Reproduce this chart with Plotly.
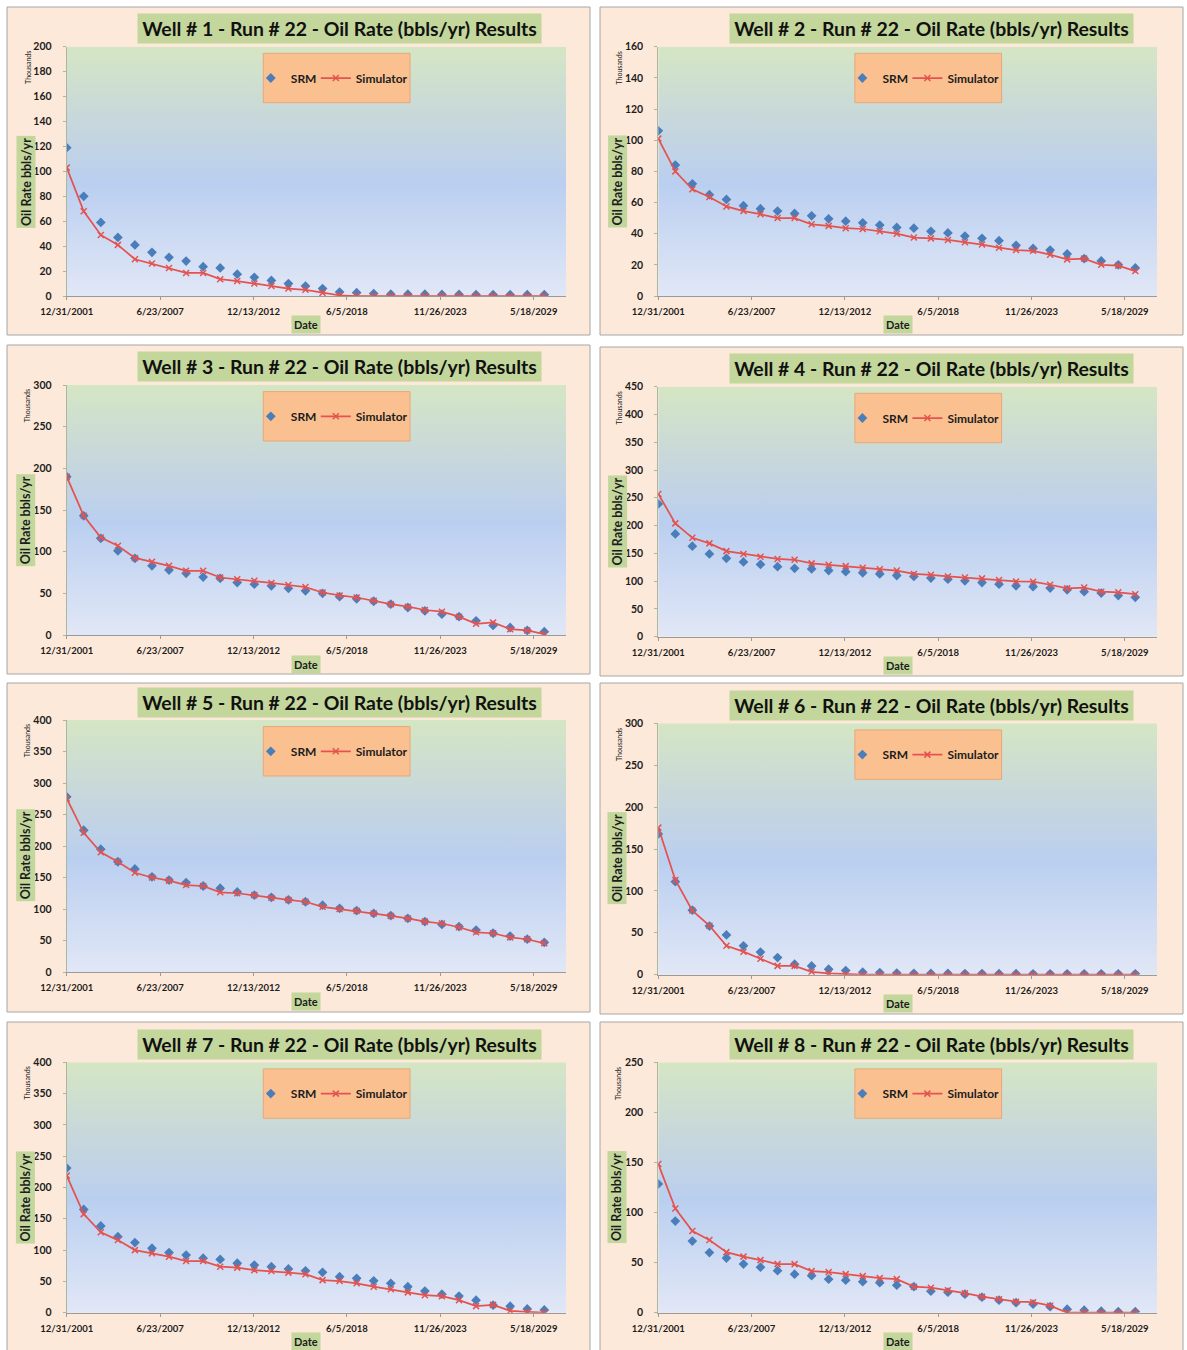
import base64
import plotly.graph_objects as go

# ---- data (oil rate, thousands of bbls/yr) ----
dates = [f"{y}-12-31" for y in range(2001, 2030)]

wells = ["Well # 1", "Well # 2", "Well # 3", "Well # 4",
         "Well # 5", "Well # 6", "Well # 7", "Well # 8"]
run_label = "Run # 22"

w1_srm = [119, 80, 59, 47, 41, 35, 31, 28, 23.5, 22.5, 17.5, 15, 12.5, 10, 8, 6, 3.2, 2.7, 2, 1.5,
          1.5, 1.4, 1.3, 1.2, 1.1, 1, 1, 1, 1]
w1_sim = [103, 68, 49, 41, 29.5, 26, 22.5, 18.5, 18.5, 13.5, 12, 10, 8, 6, 5, 2.5, 0.5, 0, 0, 0,
          0, 0, 0, 0, 0, 0, 0, 0, 0]

w2_srm = [106, 84, 72, 65, 62, 58, 56, 54.5, 53, 51.5, 49.5, 48, 47, 45.5, 44, 43.5, 41.5, 40.5, 38.5, 37,
          35.5, 32.5, 30.5, 29.5, 27, 24, 22.5, 20, 18]
w2_sim = [101, 80, 68.5, 63.5, 57.5, 54.5, 52.5, 50, 50, 46, 45, 43.5, 43, 41.5, 40, 37.5, 37, 36, 34.5, 33,
          31, 29.5, 29, 26.5, 23.5, 24, 20, 19.5, 16]

w3_srm = [190, 143, 116, 101, 92, 83, 78, 74, 69.5, 68, 63, 61, 59, 56, 53, 50, 46, 43.5, 40.5, 37,
          33, 29, 25, 22, 17, 11.5, 9, 5.5, 4]
w3_sim = [190, 143, 117, 107, 92.5, 88, 83, 77, 77, 69, 67, 65, 62.5, 60, 57.5, 51, 47.5, 45, 41, 37,
          34, 30, 28, 22, 13.5, 15, 7, 5.5, 1]

w4_srm = [239, 185, 163, 149, 141, 134.5, 130, 126, 123, 122, 119, 117, 115, 113, 110, 108.5, 105.5, 103.5, 100.5, 97.5,
          94.5, 91.5, 90, 87.5, 84.5, 81, 78.5, 74, 71]
w4_sim = [257, 204, 178, 168, 154, 149, 144, 140, 138.5, 132, 129.5, 127, 124, 121.5, 119, 113, 111.5, 108.5, 106.5, 105,
          102, 99.5, 99, 93.5, 87, 88.5, 81, 80, 76.5]

w5_srm = [278, 225, 195, 175, 163.5, 151, 146, 142, 136.5, 133, 127, 122, 118.5, 114.5, 111.5, 106, 101, 97.5, 93, 89.5,
          85, 80, 75.5, 72, 66.5, 61.5, 57, 52, 47]
w5_sim = [275.5, 221, 190, 175, 157.5, 150, 145, 138, 136.5, 126.5, 125, 122, 118, 114.5, 111.5, 103.5, 100, 97, 93, 89,
          85, 80, 77, 71, 63, 61.5, 55, 52, 45.5]

w6_srm = [168, 111, 77, 58, 47.5, 34.5, 27, 20.5, 12.5, 10.5, 6.5, 5, 3, 2.5, 2, 1.6, 1.5, 1.5, 1.4, 1.3,
          1.2, 1.2, 1.1, 1.1, 1, 1, 1, 1, 1]
w6_sim = [175.5, 113, 76.5, 58.5, 34.5, 27.5, 19, 10.5, 10.5, 3.5, 1.5, 0.5, 0, 0, 0, 0, 0, 0, 0, 0,
          0, 0, 0, 0, 0, 0, 0, 0, 0]

w7_srm = [231, 165, 138.5, 121.5, 112, 103, 96, 92, 87, 85, 79, 76, 73.5, 70, 67, 64.5, 57.5, 55, 51, 47,
          41.5, 34.5, 29.5, 26.5, 20, 12, 10.5, 6, 4.5]
w7_sim = [219, 157.5, 128.5, 116, 100, 95, 89.5, 82.5, 82.5, 73.5, 72, 68, 66.5, 64, 61.5, 52, 50.5, 47, 41.5, 37.5,
          32.5, 28, 26.5, 20, 10.5, 12.5, 3, 1.5, 0]

w8_srm = [128.5, 91.5, 71.5, 60, 54.5, 48.5, 45.5, 42, 38.5, 37, 33.5, 32.5, 31, 30, 27.5, 26, 21.5, 20.5, 18.5, 15.5,
          12.5, 10, 8.5, 6, 3.5, 2.5, 1.5, 1, 1]
w8_sim = [148.5, 104, 81.5, 72.5, 60.5, 56, 52.5, 48.5, 48.5, 41.5, 40.5, 38.5, 36.5, 34.5, 33.5, 26, 25, 22.5, 19.5, 16,
          13.5, 11, 10.5, 7, 0, 0.3, 0, 0, 0]

srm_series = [w1_srm, w2_srm, w3_srm, w4_srm, w5_srm, w6_srm, w7_srm, w8_srm]
sim_series = [w1_sim, w2_sim, w3_sim, w4_sim, w5_sim, w6_sim, w7_sim, w8_sim]

y_max = [200, 160, 300, 450, 400, 300, 400, 250]
y_step = [20, 20, 50, 50, 50, 50, 50, 50]

x_tick_vals = ["2001-12-31", "2007-06-23", "2012-12-13", "2018-06-05", "2023-11-26", "2029-05-18"]
x_tick_text = ["12/31/2001", "6/23/2007", "12/13/2012", "6/5/2018", "11/26/2023", "5/18/2029"]
x_range = ["2001-12-31", "2031-04-10"]

# ---- page geometry (pixels) ----
W, H = 1187, 1350
# chart frame boxes (x0, y0, x1, y1)
frames = [(7, 7, 590, 335), (600, 7, 1183, 335),
          (7, 345, 590, 674), (600, 347, 1183, 676),
          (7, 683, 590, 1012), (600, 683, 1183, 1014),
          (7, 1022, 590, 1352), (600, 1022, 1183, 1352)]
# plot areas (x0, y0, x1, y1)
plots = [(66.7, 46.7, 566, 296), (658.3, 46.7, 1157, 296),
         (66.7, 385, 566, 635), (658.3, 386.7, 1157, 636.7),
         (66.7, 720, 566, 972), (658.3, 723.3, 1157, 974.7),
         (66.7, 1062.3, 566, 1312.7), (658.3, 1062.3, 1157, 1312.7)]

FONT = "Lato"
PEACH = "#fde9d9"
OLIVE = "#c3d69b"
ORANGE = "#fac090"
BLUE = "#4a7ebb"
RED = "#e4534f"
TXT = "#1c1c1c"


def fx(x):
    return x / W


def fy(y):
    return 1 - y / H


# vertical gradient used as the plot-area fill
grad_svg = (
    '<svg xmlns="http://www.w3.org/2000/svg" width="10" height="100" preserveAspectRatio="none">'
    '<defs><linearGradient id="g" x1="0" y1="0" x2="0" y2="1">'
    '<stop offset="0" stop-color="#d5e6c4"/>'
    '<stop offset="0.3" stop-color="#c7d7dc"/>'
    '<stop offset="0.55" stop-color="#bacff0"/>'
    '<stop offset="1" stop-color="#e1e7f6"/>'
    '</linearGradient></defs>'
    '<rect width="10" height="100" fill="url(#g)"/></svg>'
)
grad_src = "data:image/svg+xml;base64," + base64.b64encode(grad_svg.encode()).decode()

fig = go.Figure()
shapes, annotations, images = [], [], []
layout = {}

for i in range(8):
    sfx = "" if i == 0 else str(i + 1)
    fr = frames[i]
    px0, py0, px1, py1 = plots[i]

    fig.add_trace(go.Scatter(
        x=dates, y=srm_series[i], mode="markers", name="SRM",
        marker=dict(symbol="diamond", size=7.5, color=BLUE),
        xaxis="x" + sfx, yaxis="y" + sfx, legend="legend" + sfx, legendwidth=20,
    ))
    fig.add_trace(go.Scatter(
        x=dates, y=sim_series[i], mode="lines+markers", name="Simulator",
        line=dict(color=RED, width=1.75),
        marker=dict(symbol="x-thin", size=6, color=RED, line=dict(color=RED, width=1.5)),
        xaxis="x" + sfx, yaxis="y" + sfx, legend="legend" + sfx,
    ))

    layout["xaxis" + sfx] = dict(
        domain=[fx(px0), fx(px1)], anchor="y" + sfx, type="date", range=x_range,
        tickvals=x_tick_vals, ticktext=x_tick_text, showgrid=False, zeroline=False,
        showline=True, linecolor="#9a9a9a", linewidth=1,
        ticks="outside", ticklen=3, tickcolor="#9a9a9a", ticklabelstandoff=4,
        tickfont=dict(family=FONT, size=9.5, color=TXT, weight="bold"),
        fixedrange=True, automargin=False,
    )
    layout["yaxis" + sfx] = dict(
        domain=[fy(py1), fy(py0)], anchor="x" + sfx, range=[0, y_max[i]], dtick=y_step[i],
        showgrid=False, zeroline=False, showline=True, linecolor="#a9b7a0", linewidth=1,
        ticks="outside", ticklen=3, tickcolor="#a9b7a0", ticklabelstandoff=9,
        tickfont=dict(family=FONT, size=10.5, color=TXT, weight="bold"),
        fixedrange=True, automargin=False,
    )

    # chart frame
    shapes.append(dict(type="rect", xref="paper", yref="paper",
                       x0=fx(fr[0]), x1=fx(fr[2]), y0=fy(fr[3]), y1=fy(fr[1]),
                       fillcolor=PEACH, line=dict(color="#a6a6a6", width=1), layer="below"))
    # gradient plot area
    images.append(dict(source=grad_src, xref="x" + sfx + " domain", yref="y" + sfx + " domain",
                       x=0, y=1, sizex=1, sizey=1, xanchor="left", yanchor="top",
                       sizing="stretch", layer="below"))
    # legend box
    lx0, lx1 = px0 + 196.6, px0 + 343.3
    ly0, ly1 = py0 + 6.6, py0 + 56
    shapes.append(dict(type="rect", xref="paper", yref="paper",
                       x0=fx(lx0), x1=fx(lx1), y0=fy(ly1), y1=fy(ly0),
                       fillcolor=ORANGE, line=dict(color="#e6a878", width=1), layer="above"))
    layout["legend" + sfx] = dict(
        x=fx(lx0 - 12.5), y=fy((ly0 + ly1) / 2), xanchor="left", yanchor="middle",
        orientation="h", bgcolor="rgba(0,0,0,0)", borderwidth=0,
        font=dict(family=FONT, size=12, color=TXT, weight="bold"),
        itemclick=False, itemdoubleclick=False, tracegroupgap=0,
    )

    # title
    annotations.append(dict(
        text=f"{wells[i]} - {run_label} - Oil Rate (bbls/yr) Results",
        xref="paper", yref="paper", x=fx(px0 + 273), y=fy(py0 - 18),
        xanchor="center", yanchor="middle", showarrow=False,
        width=401, height=27, bgcolor=OLIVE,
        font=dict(family=FONT, size=19.4, color="#111111", weight="bold"),
    ))
    # y-axis title
    annotations.append(dict(
        text="Oil Rate bbls/yr", xref="paper", yref="paper",
        x=fx(px0 - 41), y=fy(py0 + 135), xanchor="center", yanchor="middle",
        textangle=-90, showarrow=False, bgcolor=OLIVE, borderpad=1.5,
        font=dict(family=FONT, size=12.5, color=TXT, weight="bold"),
    ))
    # units label
    annotations.append(dict(
        text="Thousands", xref="paper", yref="paper",
        x=fx(px0 - 39.5), y=fy(py0 + 21), xanchor="center", yanchor="middle",
        textangle=-90, showarrow=False,
        font=dict(family=FONT, size=7, color=TXT),
    ))
    # x-axis title
    annotations.append(dict(
        text="Date", xref="paper", yref="paper",
        x=fx((px0 + px1) / 2 - 10), y=fy(py1 + 29), xanchor="center", yanchor="middle",
        showarrow=False, bgcolor=OLIVE, borderpad=2,
        font=dict(family=FONT, size=11, color=TXT, weight="bold"),
    ))

fig.update_layout(
    width=W, height=H, margin=dict(l=0, r=0, t=0, b=0, autoexpand=False),
    paper_bgcolor="white", plot_bgcolor="rgba(0,0,0,0)",
    shapes=shapes, annotations=annotations, images=images,
    **layout,
)

fig.write_html("out.html")
